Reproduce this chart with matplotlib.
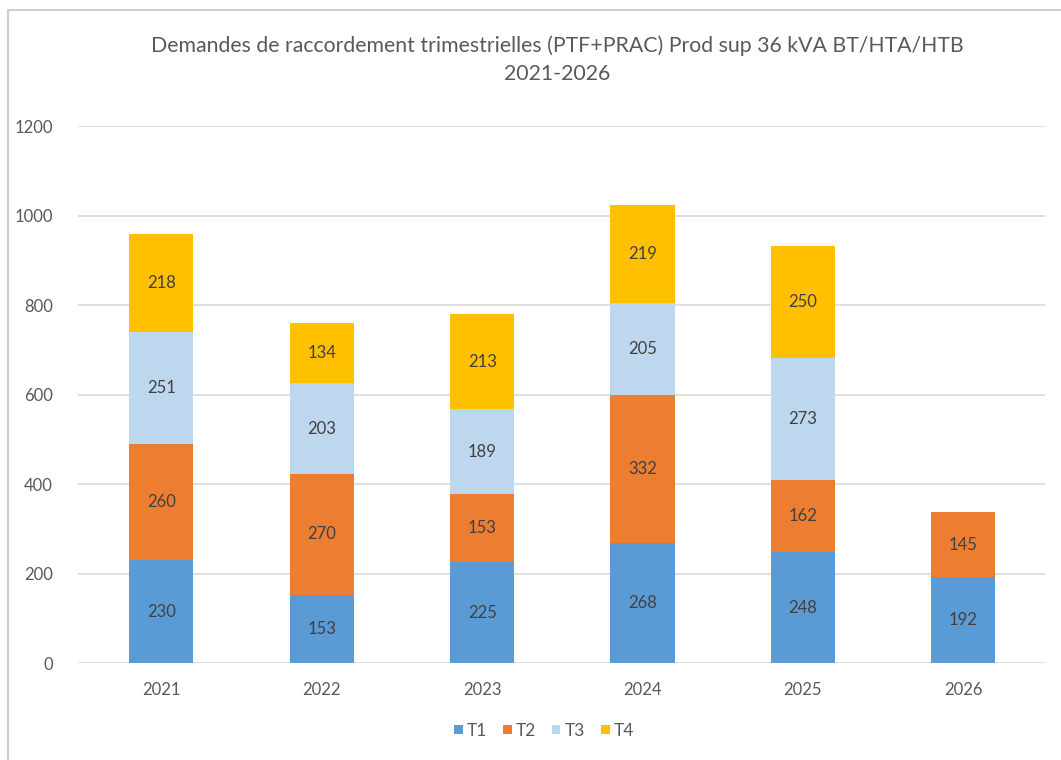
import matplotlib.pyplot as plt
from matplotlib.patches import Rectangle
import numpy as np

years = ["2021", "2022", "2023", "2024", "2025", "2026"]
t1 = [230, 153, 225, 268, 248, 192]
t2 = [260, 270, 153, 332, 162, 145]
t3 = [251, 203, 189, 205, 273, 0]
t4 = [218, 134, 213, 219, 250, 0]
series = ["T1", "T2", "T3", "T4"]
colors = ["#5B9BD5", "#ED7D31", "#BDD7EE", "#FFC000"]

plt.rcParams['font.family'] = ['Lato', 'DejaVu Sans']
txt = "#595959"

fig = plt.figure(figsize=(10.61, 7.6), dpi=100)
fig.patches.append(Rectangle((8 / 1061, -0.01), 1.1, 1 - 10 / 760 + 0.01,
                             transform=fig.transFigure, fill=False,
                             edgecolor="#d0d0d0", linewidth=1.5))
ax = fig.add_axes([0.0735, 0.1276, 0.9115, 0.706])

x = np.arange(len(years))
bottom = np.zeros(len(years))
for name, vals, c in zip(series, [t1, t2, t3, t4], colors):
    vals = np.array(vals, dtype=float)
    ax.bar(x, vals, 0.4, bottom=bottom, color=c, label=name, zorder=3)
    for xi, b, v in zip(x, bottom, vals):
        if v > 0:
            ax.text(xi, b + v / 2, f"{int(v)}", ha="center", va="center",
                    fontsize=12, color="#404040", zorder=4)
    bottom += vals

ax.set_xlim(-0.52, 5.51)
ax.set_ylim(0, 1200)
ax.set_yticks(range(0, 1201, 200))
ax.set_xticks(x)
ax.set_xticklabels(years)
ax.yaxis.grid(True, color="#d9d9d9", linewidth=1.2, zorder=0)
for s in ax.spines.values():
    s.set_visible(False)
ax.tick_params(length=0, labelsize=12, colors=txt, pad=14)
ax.tick_params(axis="y", pad=18)

fig.text(0.525, 0.94, "Demandes de raccordement trimestrielles (PTF+PRAC) Prod sup 36 kVA BT/HTA/HTB",
         ha="center", va="center", fontsize=15.3, color=txt)
fig.text(0.525, 0.903, "2021-2026", ha="center", va="center", fontsize=15.3, color=txt)

leg = ax.legend(loc="center", bbox_to_anchor=(0.482, -0.126), ncol=4, frameon=False,
                fontsize=12.5, handlelength=0.5, handleheight=0.5, handletextpad=0.25,
                columnspacing=0.9)
for t in leg.get_texts():
    t.set_color(txt)

fig.savefig("out.png", dpi=100)
